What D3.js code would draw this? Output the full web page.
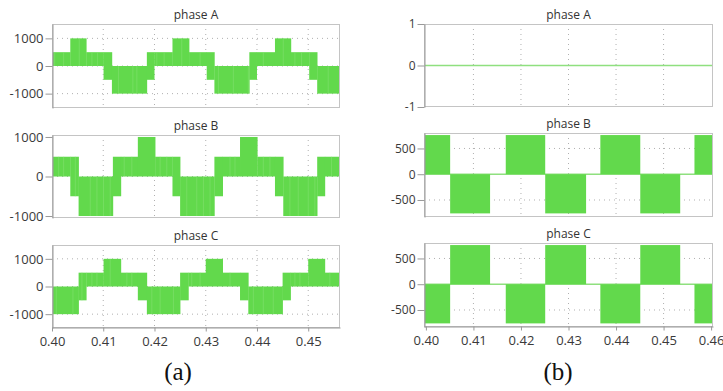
<!DOCTYPE html>
<html>
<head>
<meta charset="utf-8">
<script src="https://cdn.jsdelivr.net/npm/d3@7"></script>
<style>
  html, body { margin: 0; padding: 0; background: #fff; }
  svg { display: block; }
</style>
</head>
<body>
<svg id="chart" width="723" height="391"></svg>
<script>
// ---------------- DATA ----------------
const titles = ["phase A", "phase B", "phase C"];
const leftXTicks = [0.40, 0.41, 0.42, 0.43, 0.44, 0.45];
const rightXTicks = [0.40, 0.41, 0.42, 0.43, 0.44, 0.45, 0.46];
const leftYTicks = [-1000, 0, 1000];
const rightAYTicks = [-1, 0, 1];
const rightBCYTicks = [-500, 0, 500];

// (a) multilevel voltages: breakpoints, upper level and lower level of the filled band
const leftA_t  = [0.4000, 0.40357, 0.40669, 0.41006, 0.41169, 0.41851, 0.41994, 0.42351, 0.42675, 0.43019, 0.43169, 0.43851, 0.43994, 0.44351, 0.44662, 0.45019, 0.45175, 0.4562];
const leftA_hi = [500, 1000, 500, 500, 0, 500, 500, 1000, 500, 500, 0, 500, 500, 1000, 500, 500, 0];
const leftA_lo = [0, 0, 0, -500, -1000, -500, 0, 0, 0, -500, -1000, -500, 0, 0, 0, -500, -1000];

const leftB_t  = [0.4000, 0.40357, 0.40519, 0.41188, 0.41344, 0.41675, 0.42013, 0.42351, 0.42500, 0.43169, 0.43331, 0.43669, 0.44006, 0.44351, 0.44513, 0.45175, 0.45325, 0.4562];
const leftB_hi = [500, 500, 0, 500, 500, 1000, 500, 500, 0, 500, 500, 1000, 500, 500, 0, 500, 500];
const leftB_lo = [0, -500, -1000, -500, 0, 0, 0, -500, -1000, -500, 0, 0, 0, -500, -1000, -500, 0];

const leftC_t  = [0.4000, 0.40519, 0.40669, 0.41006, 0.41344, 0.41675, 0.41851, 0.42500, 0.42662, 0.43000, 0.43331, 0.43669, 0.43831, 0.44500, 0.44656, 0.45000, 0.45325, 0.4562];
const leftC_hi = [0, 500, 500, 1000, 500, 500, 0, 500, 500, 1000, 500, 500, 0, 500, 500, 1000, 500];
const leftC_lo = [-1000, -500, 0, 0, 0, -500, -1000, -500, 0, 0, 0, -500, -1000, -500, 0, 0, 0];

// lighter switching streaks inside the filled bands
const leftA_streaks = [0.40052, 0.40227, 0.40532, 0.40779, 0.4089, 0.41299, 0.41578, 0.41656, 0.42045, 0.42188, 0.42532, 0.4289, 0.43247, 0.43539, 0.43831, 0.44123, 0.44513, 0.4474, 0.4487, 0.4539];
const leftB_streaks = [0.40130, 0.40227, 0.40455, 0.40747, 0.40877, 0.41006, 0.41136, 0.41409, 0.41558, 0.42110, 0.42240, 0.42630, 0.42825, 0.42955, 0.43084, 0.43474, 0.43571, 0.44123, 0.44253, 0.44643, 0.44805, 0.45000, 0.45130, 0.45455];
const leftC_streaks = [0.40084, 0.40409, 0.40584, 0.40779, 0.40877, 0.41136, 0.41461, 0.41558, 0.41948, 0.42110, 0.42370, 0.42727, 0.42890, 0.43474, 0.43929, 0.44123, 0.44318, 0.44740, 0.44838, 0.45422];

// (b) square-wave voltages
const right_t = [0.3996, 0.4051, 0.4135, 0.4168, 0.4251, 0.4337, 0.4367, 0.4451, 0.4535, 0.4565, 0.4604];
const rightA_v = [0, 0, 0, 0, 0, 0, 0, 0, 0, 0];
const rightB_v = [760, -760, 0, 760, -760, 0, 760, -760, 0, 760];
const rightC_v = [-760, 760, 0, -760, 760, 0, -760, 760, 0, -760];

// ---------------- DRAWING ----------------
const svg = d3.select("#chart");
const GREEN = "#62d94c";
const STREAK = "#86e374";
const FRAME = "#c4c4c4";
const FONT = "'Open Sans', 'Noto Sans', sans-serif";

function panel(cfg) {
  const g = svg.append("g");
  const x = d3.scaleLinear().domain(cfg.xDomain).range([cfg.x0, cfg.x1]);
  const y = d3.scaleLinear().domain(cfg.yDomain).range([cfg.y1, cfg.y0]);

  // dotted grid
  g.append("g").selectAll("line.vg")
    .data(cfg.xTicks.filter(t => x(t) > cfg.x0 + 3 && x(t) < cfg.x1 - 3))
    .join("line")
    .attr("x1", d => x(d)).attr("x2", d => x(d))
    .attr("y1", cfg.y0).attr("y2", cfg.y1)
    .attr("stroke", "#b0b0b0").attr("stroke-width", 1)
    .attr("stroke-dasharray", "1,4");
  g.append("g").selectAll("line.hg")
    .data(cfg.yTicks.filter(v => y(v) > cfg.y0 + 3 && y(v) < cfg.y1 - 3 && !(cfg.square && v === 0)))
    .join("line")
    .attr("x1", cfg.x0).attr("x2", cfg.x1)
    .attr("y1", d => y(d)).attr("y2", d => y(d))
    .attr("stroke", "#b0b0b0").attr("stroke-width", 1)
    .attr("stroke-dasharray", "1,4");

  const clipId = "clip" + Math.round(cfg.x0) + "_" + Math.round(cfg.y0);
  svg.append("clipPath").attr("id", clipId).append("rect")
    .attr("x", cfg.x0).attr("y", cfg.y0).attr("width", cfg.x1 - cfg.x0).attr("height", cfg.y1 - cfg.y0);
  const dg = g.append("g").attr("clip-path", `url(#${clipId})`);

  if (cfg.band) {
    const segs = cfg.band.hi.map((h, i) => ({t0: cfg.band.t[i], t1: cfg.band.t[i + 1], hi: h, lo: cfg.band.lo[i]}));
    dg.selectAll("rect.seg").data(segs).join("rect")
      .attr("x", d => x(d.t0))
      .attr("width", d => x(d.t1) - x(d.t0) + 0.3)
      .attr("y", d => y(d.hi))
      .attr("height", d => y(d.lo) - y(d.hi))
      .attr("fill", GREEN);
    const segAt = t => segs.find(s => t >= s.t0 && t < s.t1);
    dg.selectAll("line.st").data(cfg.streaks).join("line")
      .attr("x1", d => x(d)).attr("x2", d => x(d))
      .attr("y1", d => y(segAt(d).hi)).attr("y2", d => y(segAt(d).lo))
      .attr("stroke", STREAK).attr("stroke-width", 1).attr("opacity", 0.55);
  }
  if (cfg.square) {
    const segs = cfg.square.v.map((v, i) => ({t0: cfg.square.t[i], t1: cfg.square.t[i + 1], v}));
    dg.append("line")
      .attr("x1", x(cfg.square.t[0])).attr("x2", x(cfg.square.t[cfg.square.t.length - 1]))
      .attr("y1", y(0)).attr("y2", y(0))
      .attr("stroke", "#8fe07f").attr("stroke-width", 1.3);
    dg.selectAll("rect.sq").data(segs.filter(s => s.v !== 0)).join("rect")
      .attr("x", d => x(d.t0))
      .attr("width", d => x(d.t1) - x(d.t0))
      .attr("y", d => y(Math.max(d.v, 0)))
      .attr("height", d => Math.abs(y(d.v) - y(0)))
      .attr("fill", GREEN);
  }

  // frame
  g.append("rect")
    .attr("x", cfg.x0 + 0.5).attr("y", cfg.y0 + 0.5)
    .attr("width", cfg.x1 - cfg.x0 - 1).attr("height", cfg.y1 - cfg.y0 - 1)
    .attr("fill", "none").attr("stroke", FRAME).attr("stroke-width", 1);

  // y axis
  const ya = g.append("g").attr("transform", `translate(${cfg.x0 + 0.5},0)`)
    .call(d3.axisLeft(y).tickValues(cfg.yTicks).tickFormat(d => String(d)).tickSize(7).tickSizeOuter(0).tickPadding(2));
  ya.select(".domain").attr("stroke", "#999");
  ya.selectAll(".tick line").attr("stroke", "#999");
  ya.selectAll("text").attr("font-family", FONT).attr("font-size", cfg.yFont).attr("fill", "#3a3a3a");

  // x axis
  if (cfg.showX) {
    const xa = g.append("g").attr("transform", `translate(0,${cfg.y1 - 0.5})`)
      .call(d3.axisBottom(x).tickValues(cfg.xTicks).tickFormat(d3.format(".2f")).tickSize(4).tickSizeOuter(0).tickPadding(5));
    xa.select(".domain").attr("stroke", "#999");
    xa.selectAll(".tick line").attr("stroke", "#999");
    xa.selectAll("text").attr("font-family", FONT).attr("font-size", 13).attr("fill", "#3a3a3a");
  }

  // title
  g.append("text")
    .attr("x", (cfg.x0 + cfg.x1) / 2).attr("y", cfg.y0 - 5)
    .attr("text-anchor", "middle")
    .attr("font-family", FONT).attr("font-size", 12).attr("fill", "#333")
    .text(cfg.title);
}

const LX0 = 52, LX1 = 340, RX0 = 424, RX1 = 713;
const leftDom = [0.40, 0.4562], rightDom = [0.3996, 0.4604];

panel({x0: LX0, x1: LX1, y0: 24, y1: 108, xDomain: leftDom, yDomain: [-1520, 1520], xTicks: leftXTicks, yTicks: leftYTicks, yFont: 13,
  title: titles[0], band: {t: leftA_t, hi: leftA_hi, lo: leftA_lo}, streaks: leftA_streaks});
panel({x0: LX0, x1: LX1, y0: 135, y1: 218, xDomain: leftDom, yDomain: [-1050, 1050], xTicks: leftXTicks, yTicks: leftYTicks, yFont: 13,
  title: titles[1], band: {t: leftB_t, hi: leftB_hi, lo: leftB_lo}, streaks: leftB_streaks});
panel({x0: LX0, x1: LX1, y0: 245, y1: 328, xDomain: leftDom, yDomain: [-1500, 1500], xTicks: leftXTicks, yTicks: leftYTicks, yFont: 13,
  title: titles[2], band: {t: leftC_t, hi: leftC_hi, lo: leftC_lo}, streaks: leftC_streaks, showX: true});

panel({x0: RX0, x1: RX1, y0: 24, y1: 107, xDomain: rightDom, yDomain: [-1, 1], xTicks: rightXTicks, yTicks: rightAYTicks, yFont: 12,
  title: titles[0], square: {t: right_t, v: rightA_v}});
panel({x0: RX0, x1: RX1, y0: 133, y1: 217, xDomain: rightDom, yDomain: [-830, 800], xTicks: rightXTicks, yTicks: rightBCYTicks, yFont: 12,
  title: titles[1], square: {t: right_t, v: rightB_v}});
panel({x0: RX0, x1: RX1, y0: 243, y1: 327, xDomain: rightDom, yDomain: [-830, 800], xTicks: rightXTicks, yTicks: rightBCYTicks, yFont: 12,
  title: titles[2], square: {t: right_t, v: rightC_v}, showX: true});

// sub-figure captions
svg.append("text").attr("x", 178).attr("y", 380).attr("text-anchor", "middle")
  .attr("font-family", "'Liberation Serif', 'Times New Roman', serif").attr("font-size", 25).attr("fill", "#111").text("(a)");
svg.append("text").attr("x", 558).attr("y", 380).attr("text-anchor", "middle")
  .attr("font-family", "'Liberation Serif', 'Times New Roman', serif").attr("font-size", 25).attr("fill", "#111").text("(b)");
</script>
</body>
</html>
